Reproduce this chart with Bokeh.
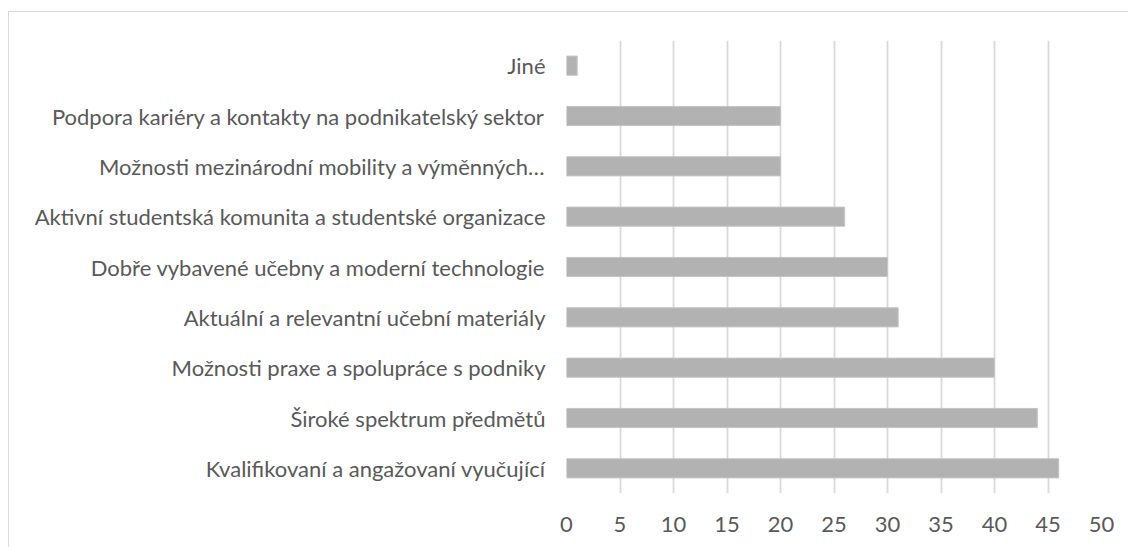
from bokeh.plotting import figure
from bokeh.models import FactorRange, Range1d, FixedTicker
from bokeh.embed import file_html
from bokeh.resources import INLINE

categories = [
    "Kvalifikovaní a angažovaní vyučující",
    "Široké spektrum předmětů",
    "Možnosti praxe a spolupráce s podniky",
    "Aktuální a relevantní učební materiály",
    "Dobře vybavené učebny a moderní technologie",
    "Aktivní studentská komunita a studentské organizace",
    "Možnosti mezinárodní mobility a výměnných…",
    "Podpora kariéry a kontakty na podnikatelský sektor",
    "Jiné",
]
values = [46, 44, 40, 31, 30, 26, 20, 20, 1]
x_ticks = [0, 5, 10, 15, 20, 25, 30, 35, 40, 45, 50]

FONT = "Lato"
TXT = "#595959"

p = figure(
    y_range=FactorRange(factors=categories, range_padding=0),
    x_range=Range1d(0, 50),
    frame_width=535, frame_height=453,
    min_border_left=557, min_border_top=28, min_border_right=27, min_border_bottom=54,
    output_backend="svg", toolbar_location=None,
    margin=(11, 0, 0, 8),
)
p.styles = {"border-left": "1px solid #d9d9d9", "border-top": "1px solid #d9d9d9"}
p.outline_line_color = None
p.background_fill_color = "white"

p.hbar(y=categories, right=values, left=0, height=0.38,
       fill_color="#b2b2b2", line_color="#c4c4c4", line_width=1)

p.xaxis.ticker = FixedTicker(ticks=x_ticks)
p.xaxis.axis_line_color = None
p.xaxis.major_tick_line_color = None
p.xaxis.minor_tick_line_color = None
p.xaxis.major_label_text_font = FONT
p.xaxis.major_label_text_font_size = "22px"
p.xaxis.major_label_text_color = TXT
p.xaxis.major_label_standoff = 17

p.yaxis.axis_line_color = None
p.yaxis.major_tick_line_color = None
p.yaxis.minor_tick_line_color = None
p.yaxis.major_label_text_font = FONT
p.yaxis.major_label_text_font_size = "22px"
p.yaxis.major_label_text_color = TXT
p.yaxis.major_label_standoff = 15

p.xgrid.grid_line_color = "#d9d9d9"
p.xgrid.grid_line_width = 1.8
p.ygrid.grid_line_color = None

open("out.html", "w").write(file_html(p, INLINE))
